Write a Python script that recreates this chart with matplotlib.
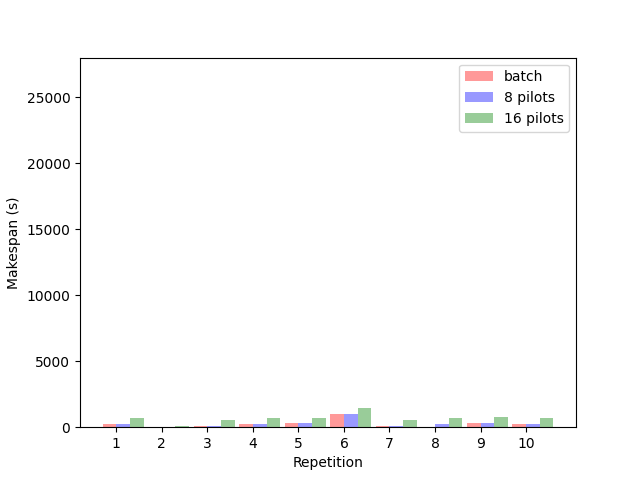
import matplotlib
matplotlib.use("Agg")
import matplotlib.pyplot as plt
import numpy as np

repetitions = [1, 2, 3, 4, 5, 6, 7, 8, 9, 10]
batch = [260, 0, 100, 260, 330, 1025, 100, 0, 330, 260]
pilots_8 = [260, 0, 100, 260, 330, 1025, 100, 260, 330, 260]
pilots_16 = [690, 100, 540, 690, 690, 1460, 540, 690, 770, 690]

x = np.array(repetitions)
w = 0.3

fig, ax = plt.subplots(figsize=(6.4, 4.8), dpi=100)
ax.bar(x - w, batch, w, align="edge", color="red", alpha=0.4, label="batch")
ax.bar(x, pilots_8, w, align="edge", color="blue", alpha=0.4, label="8 pilots")
ax.bar(x + w, pilots_16, w, align="edge", color="green", alpha=0.4, label="16 pilots")

ax.set_xticks(x)
ax.set_ylim(0, 28000)
ax.set_xlabel("Repetition")
ax.set_ylabel("Makespan (s)")
ax.legend(loc="upper right")

plt.savefig("out.png", dpi=100)
